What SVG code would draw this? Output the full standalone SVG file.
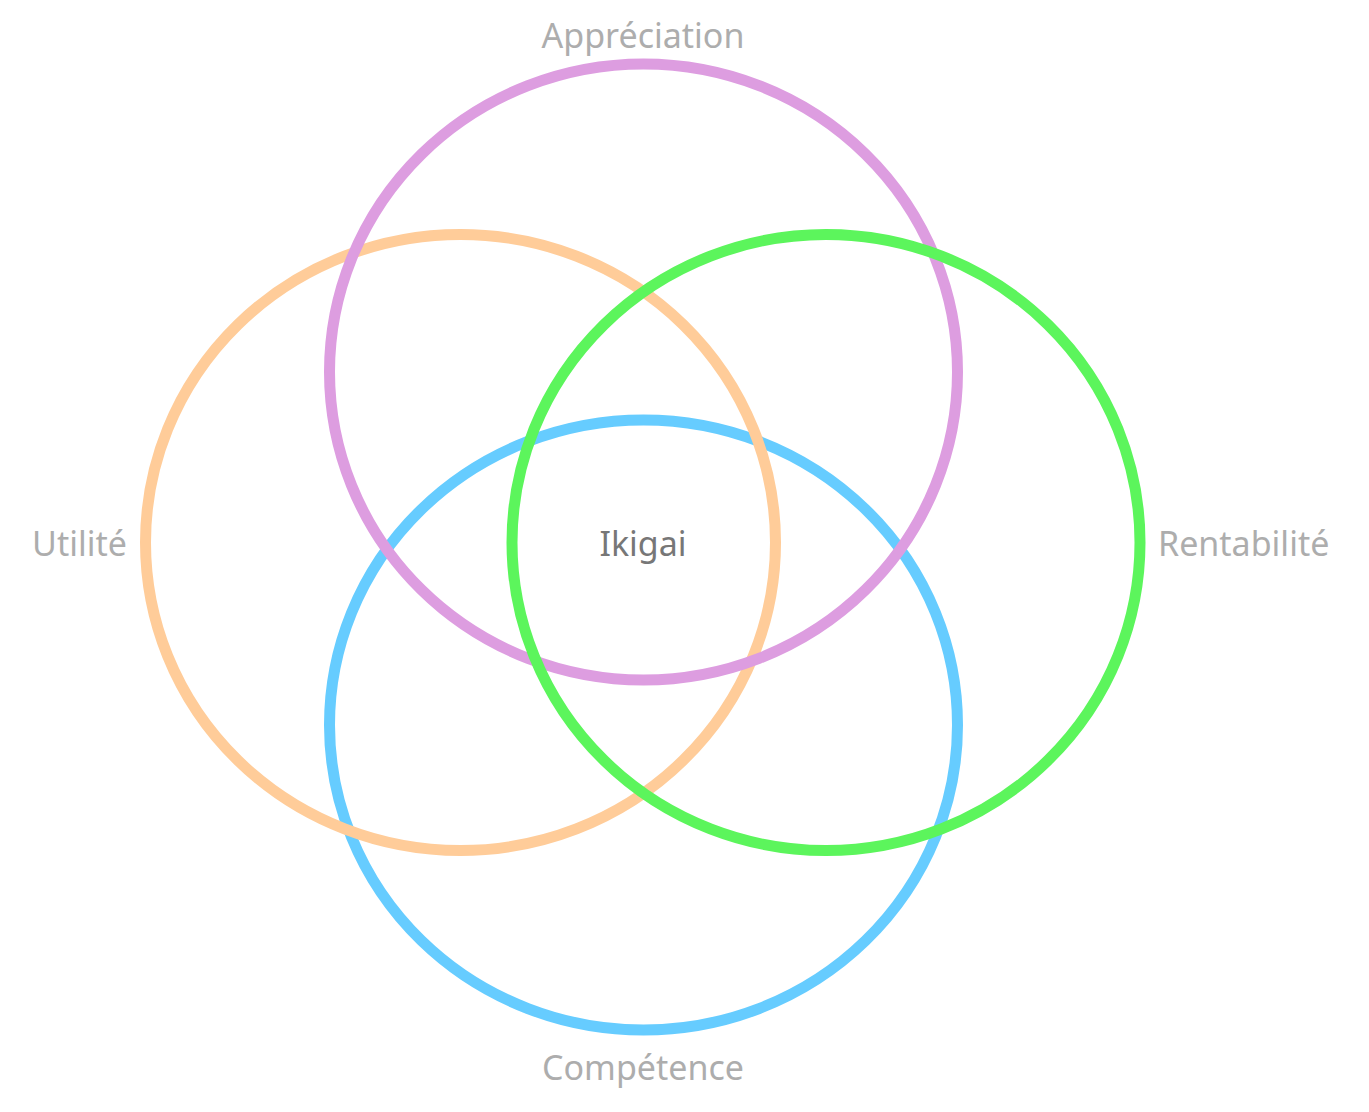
<svg xmlns="http://www.w3.org/2000/svg" width="1369" height="1112" viewBox="0 0 1369 1112">
<style>
.c{fill:none;stroke-width:11}
.l{font-family:"Noto Sans","Open Sans",sans-serif;font-size:34px;fill:#ADADAD}
</style>
<rect width="1369" height="1112" fill="#fff"/>
<g id="competence"><ellipse class="c" cx="643.5" cy="725" rx="314" ry="305" stroke="#66CCFF"/><text class="l" x="643" y="1080" text-anchor="middle">Compétence</text></g>
<g id="utilite"><ellipse class="c" cx="460.5" cy="542.5" rx="315" ry="308" stroke="#FFCC99"/><text class="l" x="127" y="556" text-anchor="end">Utilité</text></g>
<g id="appreciation"><ellipse class="c" cx="643.5" cy="372" rx="314" ry="308" stroke="#DD9DE0"/><text class="l" x="643" y="48" text-anchor="middle">Appréciation</text></g>
<g id="rentabilite"><ellipse class="c" cx="826" cy="542.5" rx="314" ry="308" stroke="#5CF55C"/><text class="l" x="1158" y="556">Rentabilité</text></g>
<g id="ikigai"><text class="l" x="643" y="556" text-anchor="middle" style="fill:#777">Ikigai</text></g>
</svg>
